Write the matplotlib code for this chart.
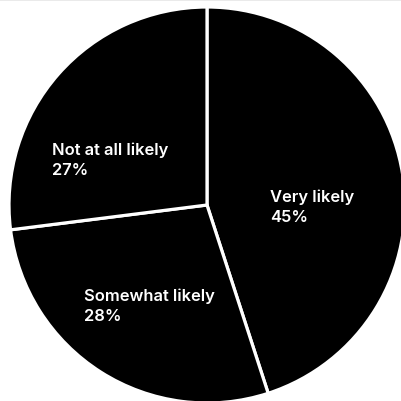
import matplotlib
matplotlib.use("Agg")
import matplotlib.pyplot as plt
from matplotlib.lines import Line2D

categories = ["Very likely", "Somewhat likely", "Not at all likely"]
values = [45, 28, 27]
pct_labels = ["45%", "28%", "27%"]

# layout (pixel positions of label left / first-line centre, in a 401x402 canvas)
label_pos = [(270, 197), (84, 296), (52, 150)]

W, H = 401, 402
fig = plt.figure(figsize=(W / 100, H / 100), dpi=100)
ax = fig.add_axes([0, 0, 1, 1])
cx, cy, r = 207, H - 206, 198
ax.pie(values, startangle=90, counterclock=False, colors=["#000000"] * 3,
       center=(cx, cy), radius=r,
       wedgeprops=dict(edgecolor="white", linewidth=2.3))
ax.set_xlim(0, W)
ax.set_ylim(0, H)
ax.set_aspect("equal")
ax.axis("off")

font = dict(color="white", fontsize=11.9, family=["Inter", "DejaVu Sans"],
            fontweight="semibold", ha="left", va="center")
for cat, pct, (x, y) in zip(categories, pct_labels, label_pos):
    ax.text(x, H - y, cat, **font)
    ax.text(x, H - y - 21, pct, **font)

fig.add_artist(Line2D([0, 1], [1 - 0.5 / H, 1 - 0.5 / H], color="#e6e6e6",
                      linewidth=1.2, transform=fig.transFigure))
fig.savefig("out.png", dpi=100)
